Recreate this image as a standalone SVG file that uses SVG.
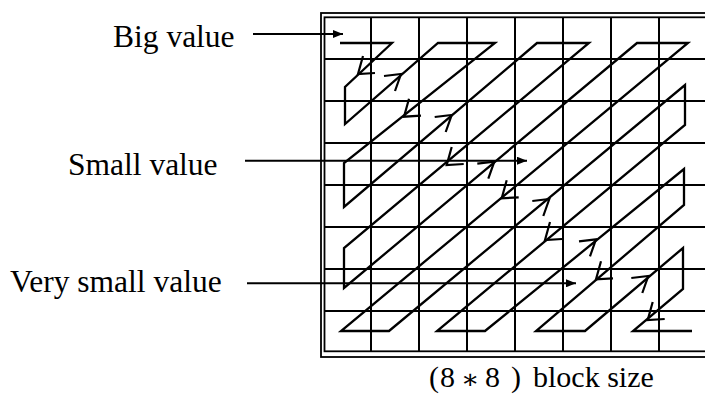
<svg xmlns="http://www.w3.org/2000/svg" xmlns:xlink="http://www.w3.org/1999/xlink" width="705" height="394" viewBox="0 0 705 394">
<style>
.grid{stroke:#000;stroke-width:2;fill:none}
.border{stroke:#000;stroke-width:1.8;fill:none}
.zz{stroke:#000;stroke-width:2.3;fill:none;stroke-linejoin:miter}
.ah{stroke:#000;stroke-width:2.2;fill:none}
.lbl{font-family:"Liberation Serif","Times New Roman",serif;font-size:31.5px;fill:#000}
.cap{font-family:"Liberation Serif","Times New Roman",serif;font-size:30px;fill:#000}
.star{font-family:"DejaVu Serif","DejaVu Sans",serif;font-size:27px}
.lead{stroke:#000;stroke-width:2;fill:none}
</style>
<defs>
<path id="dl" d="M5,-18 L0,0 L17,-1"/>
<path id="ur" d="M-17,2 L0,0 L-6,17"/>
<marker id="tri" viewBox="0 0 10 8" refX="10" refY="4" markerWidth="10" markerHeight="8" markerUnits="userSpaceOnUse" orient="auto">
<path d="M0,0 L10,4 L0,8 Z" fill="#000"/>
</marker>
</defs>
<rect width="705" height="394" fill="#fff"/>
<g id="block">
<rect class="border" x="321" y="13" width="392" height="344"/>
<rect class="border" x="324.5" y="17.3" width="385" height="334"/>
<g class="grid">
<line x1="324.5" y1="59" x2="705" y2="59"/>
<line x1="324.5" y1="101" x2="705" y2="101"/>
<line x1="324.5" y1="143" x2="705" y2="143"/>
<line x1="324.5" y1="185" x2="705" y2="185"/>
<line x1="324.5" y1="227" x2="705" y2="227"/>
<line x1="324.5" y1="269" x2="705" y2="269"/>
<line x1="324.5" y1="311" x2="705" y2="311"/>
<line x1="371" y1="17.3" x2="371" y2="351.3"/>
<line x1="419" y1="17.3" x2="419" y2="351.3"/>
<line x1="467" y1="17.3" x2="467" y2="351.3"/>
<line x1="515" y1="17.3" x2="515" y2="351.3"/>
<line x1="563" y1="17.3" x2="563" y2="351.3"/>
<line x1="611" y1="17.3" x2="611" y2="351.3"/>
<line x1="659" y1="17.3" x2="659" y2="351.3"/>
</g>
</g>
<g id="zigzag">
<polyline class="zz" points="340,43 392,43 345,87 345,124 438,43 495,43 344,163 344,207 537,43 589,43 344,248 344,288 637,43 688,43 341,331 389,331 685,85 685,125 437,331 485,331 684,169 684,205 536,331 585,331 683,248 683,289 633,331 692,331"/>
</g>
<g id="direction-arrows" class="ah">
<use xlink:href="#dl" href="#dl" x="358" y="74"/>
<use xlink:href="#ur" href="#ur" x="401" y="74"/>
<use xlink:href="#dl" href="#dl" x="404" y="116.7"/>
<use xlink:href="#ur" href="#ur" x="451.7" y="115"/>
<use xlink:href="#dl" href="#dl" x="446.7" y="165"/>
<use xlink:href="#ur" href="#ur" x="494.3" y="161.7"/>
<use xlink:href="#dl" href="#dl" x="501.7" y="198.3"/>
<use xlink:href="#ur" href="#ur" x="549.3" y="199"/>
<use xlink:href="#dl" href="#dl" x="545" y="240"/>
<use xlink:href="#ur" href="#ur" x="596" y="239.3"/>
<use xlink:href="#dl" href="#dl" x="596" y="279.3"/>
<use xlink:href="#ur" href="#ur" x="648.3" y="276"/>
<use xlink:href="#dl" href="#dl" x="647.7" y="320"/>
</g>
<g id="connectors">
<line class="lead" x1="253" y1="34" x2="343" y2="34" marker-end="url(#tri)"/>
<line class="lead" x1="245" y1="160.7" x2="527" y2="160.7" marker-end="url(#tri)"/>
<line class="lead" x1="247" y1="283.3" x2="576" y2="283.3" marker-end="url(#tri)"/>
</g>
<g id="label-big"><text class="lbl" x="113" y="46.5">Big value</text></g>
<g id="label-small"><text class="lbl" x="68" y="175">Small value</text></g>
<g id="label-verysmall"><text class="lbl" x="10" y="291.5">Very small value</text></g>
<g id="caption"><text class="cap" y="387"><tspan x="429">(</tspan><tspan x="440">8</tspan><tspan class="star" x="461" y="388">∗</tspan><tspan x="485" y="387">8</tspan><tspan x="511">)</tspan><tspan x="533">block size</tspan></text></g>
</svg>
